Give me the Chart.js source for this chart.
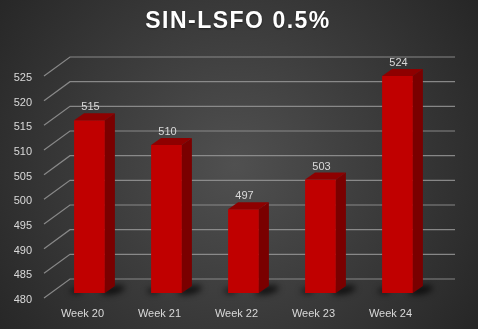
<!DOCTYPE html>
<html>
<head>
<meta charset="utf-8">
<script src="https://cdn.jsdelivr.net/npm/chart.js@4.4.1/dist/chart.umd.min.js"></script>
<style>
  html, body { margin: 0; padding: 0; background: #2a2a2a; }
  #wrap { width: 478px; height: 329px; }
</style>
</head>
<body>
<div id="wrap"><canvas id="precoChart" width="478" height="329"></canvas></div>
<script>
// dados do gráfico
const semanas = ['Week 20', 'Week 21', 'Week 22', 'Week 23', 'Week 24'];
const precos = [515, 510, 497, 503, 524];
const tituloGrafico = 'SIN-LSFO 0.5%';
const eixoMin = 480;
const eixoMax = 525;
const eixoPasso = 5;

// profundidade do efeito 3D
const PROF_BARRA = { dx: 10, dy: -7 };
const PROF_FRENTE = { dx: -7, dy: 5 };
const PROF_FUNDO = { dx: 19, dy: -14 };

const corTexto = '#d9d9d9';

// fundo com gradiente radial + título
const fundoPlugin = {
    id: 'fundo',
    beforeDraw(chart) {
        const ctx = chart.ctx;
        const w = chart.width, h = chart.height;
        ctx.save();
        const g = ctx.createRadialGradient(235, 165, 0, 235, 165, 295);
        g.addColorStop(0, '#505050');
        g.addColorStop(1, '#262626');
        ctx.fillStyle = g;
        ctx.fillRect(0, 0, w, h);

        ctx.font = 'bold 23px "Liberation Sans", Arial, sans-serif';
        ctx.letterSpacing = '1.5px';
        ctx.fillStyle = '#ffffff';
        ctx.textBaseline = 'middle';
        ctx.textAlign = 'left';
        const larg = ctx.measureText(tituloGrafico).width;
        ctx.shadowColor = 'rgba(0,0,0,0.5)';
        ctx.shadowBlur = 2;
        ctx.shadowOffsetY = 1;
        ctx.fillText(tituloGrafico, 238 - larg / 2, 22);
        ctx.restore();
    }
};

// grade 3D (parede do fundo + linhas diagonais)
const grade3DPlugin = {
    id: 'grade3D',
    beforeDatasetsDraw(chart) {
        const ctx = chart.ctx;
        const area = chart.chartArea;
        const y = chart.scales.y;
        ctx.save();
        ctx.strokeStyle = 'rgba(150,150,150,0.85)';
        ctx.lineWidth = 1.2;
        for (let v = eixoMin; v <= eixoMax; v += eixoPasso) {
            const py = y.getPixelForValue(v);
            const fx = area.left + PROF_FRENTE.dx, fy = py + PROF_FRENTE.dy;
            const bx = area.left + PROF_FUNDO.dx, by = py + PROF_FUNDO.dy;
            const bxr = area.right + PROF_FUNDO.dx;
            ctx.beginPath();
            ctx.moveTo(fx, fy);
            ctx.lineTo(bx, by);
            ctx.lineTo(bxr, by);
            ctx.stroke();
        }
        ctx.restore();

        // sombras no chão
        const meta = chart.getDatasetMeta(0);
        ctx.save();
        ctx.filter = 'blur(3px)';
        ctx.fillStyle = 'rgba(0,0,0,0.75)';
        meta.data.forEach(bar => {
            const p = bar.getProps(['x', 'base', 'width'], true);
            const base = Math.min(p.base, area.bottom);
            const dir = p.x + p.width / 2;
            ctx.beginPath();
            ctx.ellipse(dir + 8, base - 3, 12, 4, -0.2, 0, Math.PI * 2);
            ctx.fill();
            ctx.beginPath();
            ctx.ellipse(p.x - p.width / 2 + 2, base - 2, 6, 2.5, 0, 0, Math.PI * 2);
            ctx.fill();
        });
        ctx.restore();
    },
    afterDatasetsDraw(chart) {
        const ctx = chart.ctx;
        const area = chart.chartArea;
        const meta = chart.getDatasetMeta(0);
        ctx.save();
        meta.data.forEach((bar, i) => {
            const p = bar.getProps(['x', 'y', 'base', 'width'], true);
            const esq = p.x - p.width / 2;
            const dir = p.x + p.width / 2;
            const topo = p.y;
            const base = Math.min(p.base, area.bottom);
            // lateral
            ctx.fillStyle = '#7a0000';
            ctx.beginPath();
            ctx.moveTo(dir, topo);
            ctx.lineTo(dir + PROF_BARRA.dx, topo + PROF_BARRA.dy);
            ctx.lineTo(dir + PROF_BARRA.dx, base + PROF_BARRA.dy);
            ctx.lineTo(dir, base);
            ctx.closePath();
            ctx.fill();
            // topo
            ctx.fillStyle = '#8e0000';
            ctx.beginPath();
            ctx.moveTo(esq, topo);
            ctx.lineTo(esq + PROF_BARRA.dx, topo + PROF_BARRA.dy);
            ctx.lineTo(dir + PROF_BARRA.dx, topo + PROF_BARRA.dy);
            ctx.lineTo(dir, topo);
            ctx.closePath();
            ctx.fill();
            // rótulo do valor
            ctx.fillStyle = corTexto;
            ctx.font = '11px "Liberation Sans", Arial, sans-serif';
            ctx.textAlign = 'center';
            ctx.textBaseline = 'middle';
            ctx.fillText(String(precos[i]), p.x + 1, topo - 13);
        });
        ctx.restore();
    }
};

const ctx = document.getElementById('precoChart').getContext('2d');
new Chart(ctx, {
    type: 'bar',
    data: {
        labels: semanas,
        datasets: [{
            label: tituloGrafico,
            data: precos,
            backgroundColor: '#c00000',
            borderWidth: 0,
            categoryPercentage: 1,
            barPercentage: 0.4
        }]
    },
    options: {
        responsive: false,
        devicePixelRatio: 1,
        animation: false,
        layout: { padding: { top: 71, left: 0, right: 42, bottom: 0 } },
        plugins: {
            legend: { display: false },
            title: { display: false },
            tooltip: { enabled: false }
        },
        scales: {
            x: {
                grid: { display: false },
                border: { display: false },
                ticks: {
                    color: corTexto,
                    font: { family: '"Liberation Sans", Arial, sans-serif', size: 11 },
                    padding: 6,
                    labelOffset: -7,
                    maxRotation: 0
                },
                afterFit(scale) { scale.height = 36; }
            },
            y: {
                min: eixoMin,
                max: eixoMax,
                grid: { display: false },
                border: { display: false },
                ticks: {
                    stepSize: eixoPasso,
                    color: corTexto,
                    font: { family: '"Liberation Sans", Arial, sans-serif', size: 11 },
                    padding: 11,
                    labelOffset: 7
                },
                afterFit(scale) { scale.width = 51; }
            }
        }
    },
    plugins: [fundoPlugin, grade3DPlugin]
});
</script>
</body>
</html>
